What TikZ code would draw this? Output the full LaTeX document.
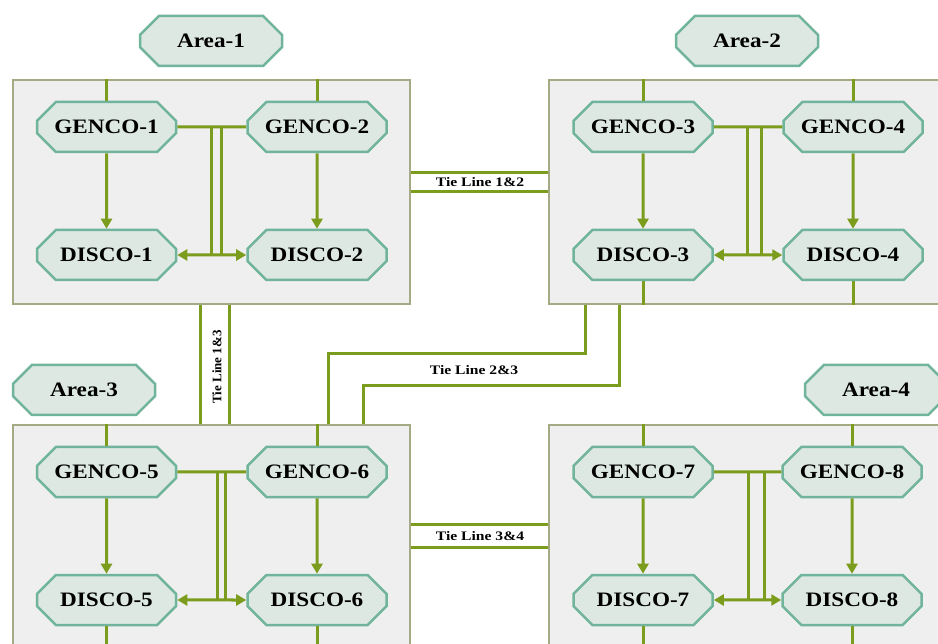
\documentclass[tikz,border=0pt]{standalone}
\usepackage{fontspec}
\setmainfont{Liberation Serif}[FakeStretch=1.13]
\newfontfamily\tiefont{Liberation Serif}[FakeStretch=1.2]
\newfontfamily\tievfont{Liberation Serif}
\usetikzlibrary{shapes.misc,arrows.meta}
\definecolor{linkgreen}{RGB}{123,156,28}
\definecolor{octfill}{RGB}{221,232,226}
\definecolor{octline}{RGB}{112,180,155}
\definecolor{areafill}{RGB}{239,239,239}
\definecolor{arealine}{RGB}{165,170,133}

\begin{document}
\begin{tikzpicture}[x=1pt,y=-1pt,>={Triangle[length=10pt,width=11pt]},
  unit/.style={chamfered rectangle,chamfered rectangle xsep=12pt,chamfered rectangle ysep=12pt,
    draw=octline,fill=octfill,line width=2.5pt,minimum width=139pt,minimum height=50pt,inner sep=0pt,
    font=\bfseries\fontsize{20.5}{22}\selectfont},
  areabox/.style={draw=arealine,fill=areafill,line width=2pt,inner sep=0pt,minimum height=224pt},
  link/.style={draw=linkgreen,line width=3pt},
  tielabel/.style={font=\tiefont\bfseries\fontsize{13}{14}\selectfont,inner sep=1pt}]

        \clip (0,0) rectangle (938,644);

        % area frames
        \node[areabox,minimum width=397pt] (F1) at (211.5,192) {};
        \node[areabox,minimum width=400pt] (F2) at (749,192) {};
        \node[areabox,minimum width=397pt,minimum height=226pt] (F3) at (211.5,538) {};
        \node[areabox,minimum width=400pt,minimum height=226pt] (F4) at (749,538) {};

        % tie lines
        \draw[link] ([yshift=19pt]F1.east) -- ([yshift=19pt]F2.west);
        \draw[link] (F1.east) -- (F2.west);
        \draw[link] ([yshift=14pt]F3.east) -- ([yshift=14pt]F4.west);
        \draw[link] ([yshift=-9pt]F3.east) -- ([yshift=-9pt]F4.west);
        \draw[link] ([xshift=-11.5pt]F1.south) -- ([xshift=-11.5pt]F3.north);
        \draw[link] ([xshift=17.5pt]F1.south) -- ([xshift=17.5pt]F3.north);
        \coordinate (T1) at (328,354);
        \coordinate (T2) at (585,354);
        \coordinate (T3) at (363,386);
        \coordinate (T4) at (619,386);
        \draw[link] (F3.north -| T1) -- (T1) -- (T2) -- (F2.south -| T2);
        \draw[link] (F3.north -| T3) -- (T3) -- (T4) -- (F2.south -| T4);
        \node[tielabel] (L12) at (480,182) {Tie Line 1\&2};
        \node[tielabel] (L34) at (480,536) {Tie Line 3\&4};
        \node[tielabel] (L23) at (474,370) {Tie Line 2\&3};
        \node[tielabel,font=\tievfont\bfseries\fontsize{13}{14}\selectfont,rotate=90] (L13) at (217,367) {Tie Line 1\&3};

        % area labels
        \node[unit,minimum width=142pt] (A1) at (211,41) {Area-1};
        \node[unit,minimum width=142pt] (A2) at (747,41) {Area-2};
        \node[unit,minimum width=142pt] (A3) at (84,390) {Area-3};
        \node[unit,minimum width=142pt] (A4) at (876,390) {Area-4};

        % area 1
        \node[unit] (G1) at (106.5,127) {GENCO-1};
        \node[unit] (G2) at (317,127) {GENCO-2};
        \node[unit] (D1) at (106.5,255) {DISCO-1};
        \node[unit] (D2) at (317,255) {DISCO-2};
        \draw[link] (F1.north -| G1) -- (G1);
        \draw[link] (F1.north -| G2) -- (G2);
        \draw[link,->] (G1) -- (D1);
        \draw[link,->] (G2) -- (D2);
        \draw[link] (G1) -- coordinate[pos=0.49] (b1) coordinate[pos=0.64] (b2) (G2);
        \draw[link,<->] (D1) -- (D2);
        \draw[link] (b1) -- (b1 |- D1.east);
        \draw[link] (b2) -- (b2 |- D1.east);

        % area 2
        \node[unit] (G3) at (643,127) {GENCO-3};
        \node[unit] (G4) at (853,127) {GENCO-4};
        \node[unit] (D3) at (643,255) {DISCO-3};
        \node[unit] (D4) at (853,255) {DISCO-4};
        \draw[link] (F2.north -| G3) -- (G3);
        \draw[link] (F2.north -| G4) -- (G4);
        \draw[link] (D3) -- (D3 |- F2.south);
        \draw[link] (D4) -- (D4 |- F2.south);
        \draw[link,->] (G3) -- (D3);
        \draw[link,->] (G4) -- (D4);
        \draw[link] (G3) -- coordinate[pos=0.49] (b3) coordinate[pos=0.70] (b4) (G4);
        \draw[link,<->] (D3) -- (D4);
        \draw[link] (b3) -- (b3 |- D3.east);
        \draw[link] (b4) -- (b4 |- D3.east);

        % area 3
        \node[unit] (G5) at (106.5,472) {GENCO-5};
        \node[unit] (G6) at (317,472) {GENCO-6};
        \node[unit] (D5) at (106.5,600) {DISCO-5};
        \node[unit] (D6) at (317,600) {DISCO-6};
        \draw[link] (F3.north -| G5) -- (G5);
        \draw[link] (F3.north -| G6) -- (G6);
        \draw[link] (D5) -- (D5 |- F3.south);
        \draw[link] (D6) -- (D6 |- F3.south);
        \draw[link,->] (G5) -- (D5);
        \draw[link,->] (G6) -- (D6);
        \draw[link] (G5) -- coordinate[pos=0.59] (b5) coordinate[pos=0.70] (b6) (G6);
        \draw[link,<->] (D5) -- (D6);
        \draw[link] (b5) -- (b5 |- D5.east);
        \draw[link] (b6) -- (b6 |- D5.east);

        % area 4
        \node[unit] (G7) at (643,472) {GENCO-7};
        \node[unit] (G8) at (852,472) {GENCO-8};
        \node[unit] (D7) at (643,600) {DISCO-7};
        \node[unit] (D8) at (852,600) {DISCO-8};
        \draw[link] (F4.north -| G7) -- (G7);
        \draw[link] (F4.north -| G8) -- (G8);
        \draw[link] (D7) -- (D7 |- F4.south);
        \draw[link] (D8) -- (D8 |- F4.south);
        \draw[link,->] (G7) -- (D7);
        \draw[link,->] (G8) -- (D8);
        \draw[link] (G7) -- coordinate[pos=0.51] (b7) coordinate[pos=0.75] (b8) (G8);
        \draw[link,<->] (D7) -- (D8);
        \draw[link] (b7) -- (b7 |- D7.east);
        \draw[link] (b8) -- (b8 |- D7.east);
      \end{tikzpicture}
\end{document}
